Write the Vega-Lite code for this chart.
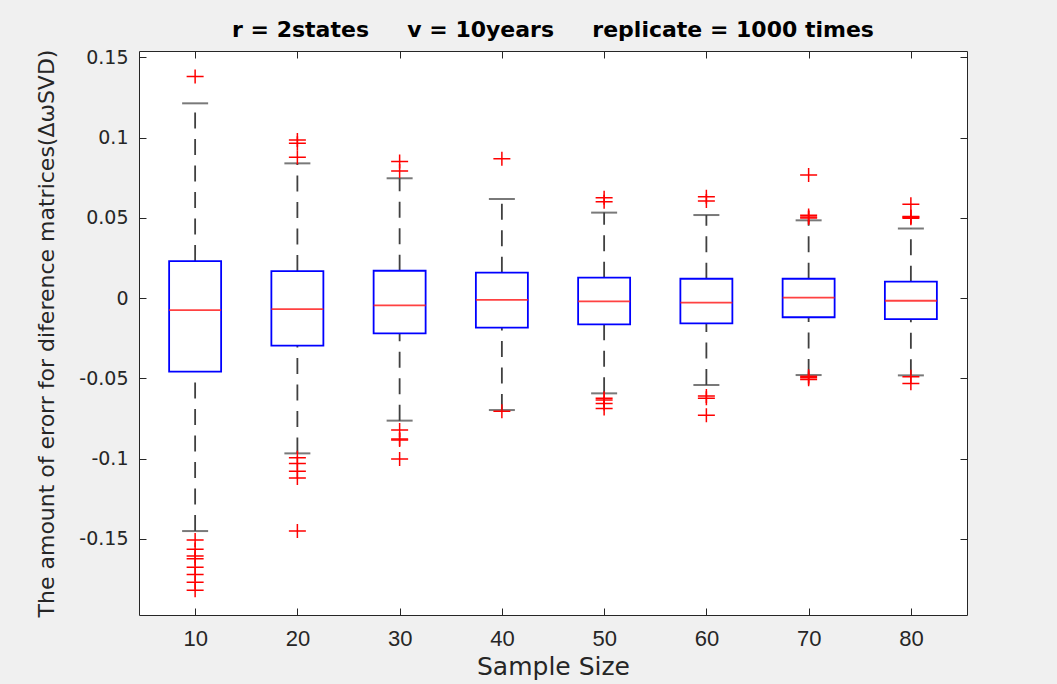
{
  "$schema": "https://vega.github.io/schema/vega-lite/v6.json",
  "width": 828,
  "height": 564,
  "autosize": "none",
  "padding": {"left": 139, "top": 51, "right": 90, "bottom": 69},
  "background": "#f0f0f0",
  "title": {
    "text": "r = 2states\u00a0\u00a0\u00a0\u00a0 v = 10years\u00a0\u00a0\u00a0\u00a0 replicate = 1000 times",
    "font": "DejaVu Sans",
    "fontSize": 22,
    "fontWeight": "bold",
    "color": "#000000",
    "anchor": "middle",
    "offset": 6
  },
  "config": {
    "view": {"fill": "white", "stroke": null},
    "axis": {
      "grid": false,
      "domainColor": "#262626",
      "domainWidth": 1,
      "tickColor": "#262626",
      "tickWidth": 1,
      "tickSize": -7,
      "labelColor": "#262626",
      "titleColor": "#262626",
      "labelFont": "DejaVu Sans",
      "titleFont": "DejaVu Sans",
      "titleFontWeight": "normal"
    }
  },
  "datasets": {
    "boxes": [
      {"sample": 10, "lower": -0.1452, "q1": -0.0459, "median": -0.0075, "q3": 0.023, "upper": 0.1213},
      {"sample": 20, "lower": -0.0968, "q1": -0.0297, "median": -0.0069, "q3": 0.0168, "upper": 0.0839},
      {"sample": 30, "lower": -0.0764, "q1": -0.022, "median": -0.0046, "q3": 0.017, "upper": 0.0746},
      {"sample": 40, "lower": -0.0698, "q1": -0.0185, "median": -0.0012, "q3": 0.0158, "upper": 0.0617},
      {"sample": 50, "lower": -0.0594, "q1": -0.0164, "median": -0.0021, "q3": 0.0127, "upper": 0.0532},
      {"sample": 60, "lower": -0.0542, "q1": -0.0158, "median": -0.0029, "q3": 0.012, "upper": 0.0517},
      {"sample": 70, "lower": -0.048, "q1": -0.012, "median": 0.0002, "q3": 0.012, "upper": 0.0484},
      {"sample": 80, "lower": -0.0482, "q1": -0.0131, "median": -0.0017, "q3": 0.0102, "upper": 0.0433}
    ],
    "outliers": [
      {"sample": 10, "value": 0.138},
      {"sample": 10, "value": -0.1508},
      {"sample": 10, "value": -0.1566},
      {"sample": 10, "value": -0.1607},
      {"sample": 10, "value": -0.1624},
      {"sample": 10, "value": -0.1678},
      {"sample": 10, "value": -0.1722},
      {"sample": 10, "value": -0.1771},
      {"sample": 10, "value": -0.1821},
      {"sample": 20, "value": 0.0984},
      {"sample": 20, "value": 0.0964},
      {"sample": 20, "value": 0.0877},
      {"sample": 20, "value": -0.0995},
      {"sample": 20, "value": -0.1031},
      {"sample": 20, "value": -0.108},
      {"sample": 20, "value": -0.1121},
      {"sample": 20, "value": -0.1452},
      {"sample": 30, "value": 0.085},
      {"sample": 30, "value": 0.0791},
      {"sample": 30, "value": -0.0822},
      {"sample": 30, "value": -0.0879},
      {"sample": 30, "value": -0.0885},
      {"sample": 30, "value": -0.1003},
      {"sample": 40, "value": 0.0868},
      {"sample": 40, "value": -0.0705},
      {"sample": 50, "value": 0.0625},
      {"sample": 50, "value": 0.06},
      {"sample": 50, "value": -0.0625},
      {"sample": 50, "value": -0.0636},
      {"sample": 50, "value": -0.0657},
      {"sample": 50, "value": -0.0688},
      {"sample": 60, "value": 0.0631},
      {"sample": 60, "value": 0.0604},
      {"sample": 60, "value": -0.0611},
      {"sample": 60, "value": -0.0625},
      {"sample": 60, "value": -0.0731},
      {"sample": 70, "value": 0.0766},
      {"sample": 70, "value": 0.0498},
      {"sample": 70, "value": 0.0504},
      {"sample": 70, "value": 0.0515},
      {"sample": 70, "value": -0.0488},
      {"sample": 70, "value": -0.0497},
      {"sample": 70, "value": -0.0507},
      {"sample": 80, "value": 0.0584},
      {"sample": 80, "value": 0.0497},
      {"sample": 80, "value": 0.0503},
      {"sample": 80, "value": 0.0508},
      {"sample": 80, "value": -0.049},
      {"sample": 80, "value": -0.0532}
    ]
  },
  "layer": [
    {
      "data": {"name": "boxes"},
      "mark": {"type": "rule", "color": "#404040", "strokeWidth": 1.8, "strokeDash": [16, 10.5]},
      "encoding": {
        "x": {
          "field": "sample", "type": "quantitative",
          "scale": {"domain": [5, 85], "nice": false, "zero": false},
          "axis": {
            "orient": "bottom",
            "values": [10, 20, 30, 40, 50, 60, 70, 80],
            "labelFont": "Liberation Sans",
            "labelFontSize": 22,
            "labelPadding": 20,
            "title": "Sample Size",
            "titleFontSize": 25,
            "titlePadding": 5
          }
        },
        "y": {
          "field": "q3", "type": "quantitative",
          "scale": {"domain": [-0.1975, 0.1539], "nice": false, "zero": false},
          "axis": {
            "orient": "left",
            "values": [-0.15, -0.1, -0.05, 0, 0.05, 0.1, 0.15],
            "labelExpr": "replace(format(datum.value, '~g'), '\u2212', '-')",
            "labelFontSize": 19,
            "labelPadding": 18,
            "title": "The amount of erorr for diference matrices(\u0394\u03c9SVD)",
            "titleFontSize": 22,
            "titlePadding": 20
          }
        },
        "y2": {"field": "upper"}
      }
    },
    {
      "data": {"name": "boxes"},
      "mark": {"type": "rule", "color": "#404040", "strokeWidth": 1.8, "strokeDash": [16, 10.5]},
      "encoding": {
        "x": {
          "field": "sample", "type": "quantitative",
          "axis": {
            "orient": "top",
            "values": [10, 20, 30, 40, 50, 60, 70, 80],
            "labels": false,
            "title": null
          }
        },
        "y": {
          "field": "lower", "type": "quantitative",
          "axis": {
            "orient": "right",
            "values": [-0.15, -0.1, -0.05, 0, 0.05, 0.1, 0.15],
            "labels": false,
            "title": null
          }
        },
        "y2": {"field": "q1"}
      }
    },
    {
      "data": {"name": "boxes"},
      "mark": {"type": "tick", "orient": "horizontal", "size": 26, "thickness": 2, "color": "#404040"},
      "encoding": {
        "x": {"field": "sample", "type": "quantitative", "axis": null},
        "y": {"field": "upper", "type": "quantitative", "axis": null}
      }
    },
    {
      "data": {"name": "boxes"},
      "mark": {"type": "tick", "orient": "horizontal", "size": 26, "thickness": 2, "color": "#404040"},
      "encoding": {
        "x": {"field": "sample", "type": "quantitative", "axis": null},
        "y": {"field": "lower", "type": "quantitative", "axis": null}
      }
    },
    {
      "data": {"name": "boxes"},
      "mark": {"type": "bar", "size": 52, "fill": null, "stroke": "#0000ff", "strokeWidth": 1.8, "fillOpacity": 0},
      "encoding": {
        "x": {"field": "sample", "type": "quantitative", "axis": null},
        "y": {"field": "q1", "type": "quantitative", "axis": null},
        "y2": {"field": "q3"}
      }
    },
    {
      "data": {"name": "boxes"},
      "mark": {"type": "tick", "orient": "horizontal", "size": 52, "thickness": 1.8, "color": "#ff2020", "opacity": 0.85},
      "encoding": {
        "x": {"field": "sample", "type": "quantitative", "axis": null},
        "y": {"field": "median", "type": "quantitative", "axis": null}
      }
    },
    {
      "data": {"name": "outliers"},
      "mark": {"type": "point", "shape": "M-1,0H1M0,-0.82V0.82", "size": 289, "filled": false, "stroke": "#ff0000", "strokeWidth": 1.5, "opacity": 1},
      "encoding": {
        "x": {"field": "sample", "type": "quantitative", "axis": null},
        "y": {"field": "value", "type": "quantitative", "axis": null}
      }
    }
  ],
  "resolve": {"axis": {"x": "independent", "y": "independent"}}
}
